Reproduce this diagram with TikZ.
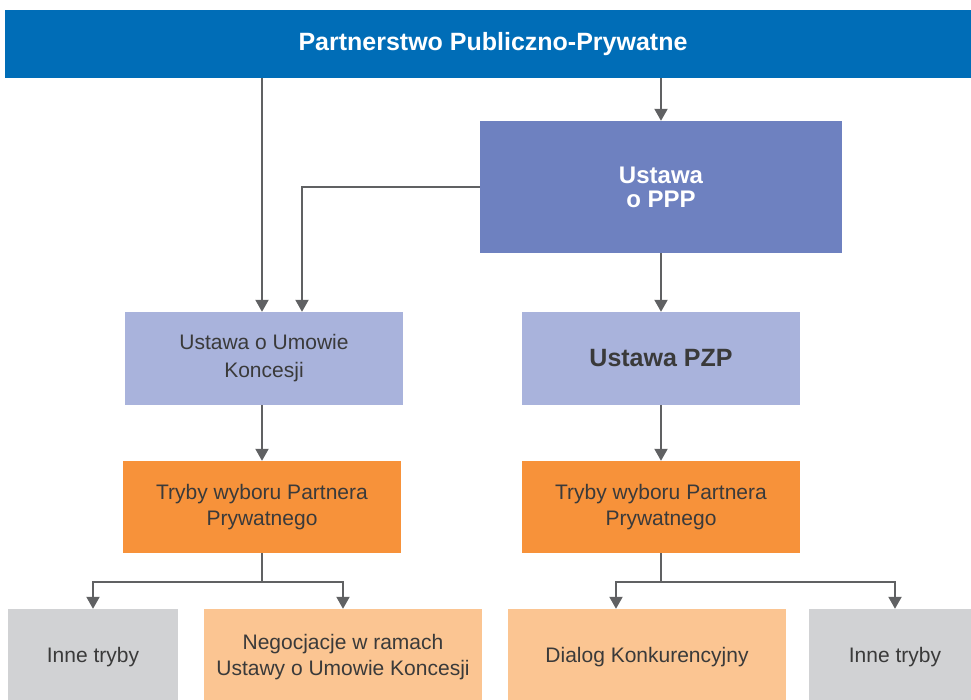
\documentclass[tikz,border=0pt]{standalone}
\usepackage{fontspec}
\setmainfont{Liberation Sans}
\usetikzlibrary{arrows.meta}

\definecolor{pppblue}{HTML}{006DB7}
\definecolor{actblue}{HTML}{6E81C0}
\definecolor{lawblue}{HTML}{A9B3DC}
\definecolor{modeorange}{HTML}{F7923A}
\definecolor{lightorange}{HTML}{FBC592}
\definecolor{othergray}{HTML}{D1D2D4}
\definecolor{linegray}{HTML}{606163}
\definecolor{textgray}{HTML}{3A3A3A}

\tikzset{
  box/.style={rectangle, inner sep=0pt, align=center, text=textgray, font=\fontsize{21}{26}\selectfont},
  law/.style={box, fill=lawblue, minimum width=278pt, minimum height=93pt},
  mode/.style={box, fill=modeorange, minimum width=278pt, minimum height=92pt},
  line/.style={draw=linegray, line width=2pt},
  conn/.style={line, -{Triangle[width=13pt, length=12pt]}}
}

\begin{document}
\begin{tikzpicture}[x=1pt, y=-1pt]
    \useasboundingbox (0,0) rectangle (971,700);
    \clip (0,0) rectangle (971,700);
    \fill[white] (0,0) rectangle (971,700);

    % upper part
    \node[box, fill=pppblue, minimum width=976pt, minimum height=68pt, text=white,
          font=\fontsize{25}{28}\selectfont\bfseries] (ppp) at (493,44) {Partnerstwo Publiczno-Prywatne};
    \node[box, fill=actblue, minimum width=362pt, minimum height=132pt, text=white,
          font=\fontsize{24}{24}\selectfont\bfseries] (uppp) at (661,187) {Ustawa\\o PPP};
    \node[law, font=\fontsize{21}{28}\selectfont] (kon) at (264,358.5) {Ustawa o Umowie\\Koncesji};
    \node[law, font=\fontsize{25}{28}\selectfont\bfseries] (pzp) at (661,358.5) {Ustawa PZP};

    % tryby wyboru
    \node[mode] (trybk) at (262,507) {Tryby wyboru Partnera\\Prywatnego};
    \node[mode] (trybp) at (661,507) {Tryby wyboru Partnera\\Prywatnego};

    % lower row
    \node[box, fill=othergray, minimum width=170pt, minimum height=96pt] (innek) at (93,657) {Inne tryby};
    \node[box, fill=lightorange, minimum width=278pt, minimum height=96pt] (neg) at (343,657) {Negocjacje w ramach\\Ustawy o Umowie Koncesji};
    \node[box, fill=lightorange, minimum width=278pt, minimum height=96pt] (dial) at (647,657) {Dialog Konkurencyjny};
    \node[box, fill=othergray, minimum width=172pt, minimum height=96pt] (innep) at (895,657) {Inne tryby};

    \draw[conn] ([xshift=-2pt]kon.north |- ppp.south) -- ([xshift=-2pt]kon.north);
    \draw[conn] (uppp.north |- ppp.south) -- (uppp.north);
    \draw[conn] (uppp.west) -| ([xshift=38pt]kon.north);
    \draw[conn] (uppp.south) -- (pzp.north);
    \draw[conn] ([xshift=-2pt]kon.south) -- (trybk.north);
    \draw[conn] (pzp.south) -- (trybp.north);

    \coordinate (splitk) at ([yshift=-29pt]trybk.south);
    \coordinate (splitp) at ([yshift=-29pt]trybp.south);
    \draw[line] (trybk.south) -- (splitk);
    \draw[line] (trybp.south) -- (splitp);
    \draw[conn] (splitk) -| (innek.north);
    \draw[conn] (splitk) -| (neg.north);
    \draw[conn] (splitp) -| ([xshift=-31pt]dial.north);
    \draw[conn] (splitp) -| (innep.north);
\end{tikzpicture}
\end{document}
